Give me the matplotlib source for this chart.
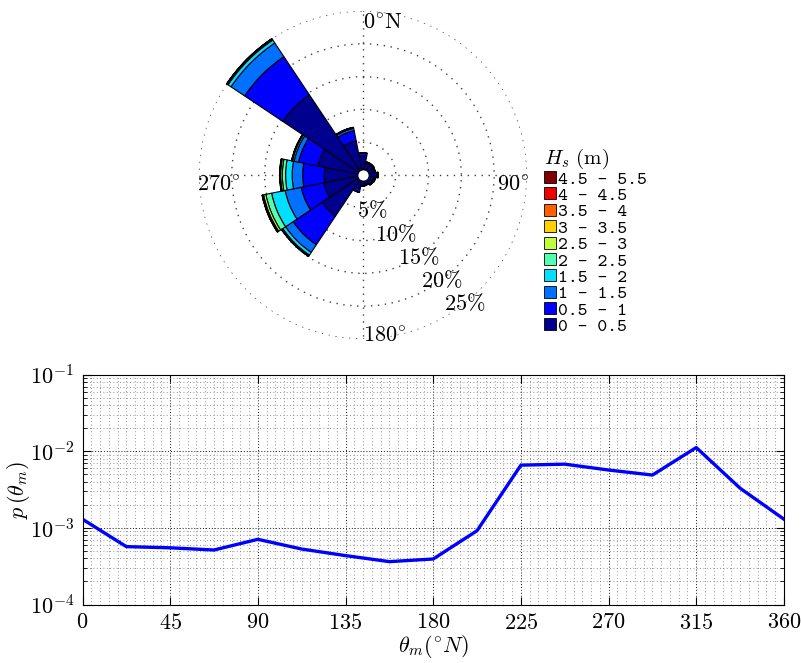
import numpy as np
import matplotlib
matplotlib.use("Agg")
import matplotlib.pyplot as plt
from matplotlib.patches import Patch
from matplotlib.ticker import MultipleLocator, LogLocator, NullFormatter

plt.rcParams['font.family'] = 'serif'
plt.rcParams['font.serif'] = ['cmr10']
plt.rcParams['mathtext.fontset'] = 'cm'
plt.rcParams['axes.formatter.use_mathtext'] = True
plt.rcParams['axes.unicode_minus'] = False

# wind rose: frequency (%) per direction sector, one list per Hs class
dirs = [0, 22.5, 45, 67.5, 90, 112.5, 135, 157.5, 180, 202.5, 225, 247.5, 270, 292.5, 315, 337.5]
hs_0_05 = [2.9, 1.9, 1.9, 1.8, 2.1, 1.8, 1.7, 1.5, 1.6, 2.1, 7.5, 6.1, 5.9, 7.0, 14.7, 5.3]
hs_05_1 = [0.45, 0.15, 0.15, 0.15, 0.2, 0.15, 0.15, 0.1, 0.1, 0.5, 5.3, 3.5, 3.3, 3.0, 7.0, 1.6]
hs_1_15 = [0.05, 0.02, 0.02, 0.02, 0.03, 0.02, 0.02, 0.01, 0.01, 0.1, 1.4, 2.5, 1.6, 0.7, 2.5, 0.35]
hs_15_2 = [0, 0, 0, 0, 0, 0, 0, 0, 0, 0.02, 0.5, 2.1, 1.0, 0.25, 0.55, 0.12]
hs_2_25 = [0, 0, 0, 0, 0, 0, 0, 0, 0, 0, 0.15, 0.9, 0.5, 0.1, 0.15, 0.04]
hs_25_3 = [0, 0, 0, 0, 0, 0, 0, 0, 0, 0, 0.05, 0.35, 0.25, 0.03, 0.06, 0.01]
hs_3_35 = [0, 0, 0, 0, 0, 0, 0, 0, 0, 0, 0.02, 0.15, 0.1, 0.01, 0.03, 0]
hs_35_4 = [0, 0, 0, 0, 0, 0, 0, 0, 0, 0, 0.01, 0.05, 0.04, 0, 0.01, 0]
hs_4_45 = [0, 0, 0, 0, 0, 0, 0, 0, 0, 0, 0, 0.02, 0.01, 0, 0, 0]
hs_45_55 = [0, 0, 0, 0, 0, 0, 0, 0, 0, 0, 0, 0.01, 0, 0, 0, 0]
hs_classes = ['0 - 0.5', '0.5 - 1', '1 - 1.5', '1.5 - 2', '2 - 2.5',
              '2.5 - 3', '3 - 3.5', '3.5 - 4', '4 - 4.5', '4.5 - 5.5']
hs_colors = ['#00008F', '#0000FF', '#0070FF', '#00DFFF', '#50FFAF',
             '#BFFF40', '#FFCF00', '#FF6000', '#EF0000', '#800000']

# directional density
theta_m = [0, 22.5, 45, 67.5, 90, 112.5, 135, 157.5, 180, 202.5, 225, 247.5,
           270, 292.5, 315, 337.5, 360]
p_theta = [1.3e-3, 5.7e-4, 5.5e-4, 5.15e-4, 7.1e-4, 5.3e-4, 4.35e-4, 3.63e-4,
           3.93e-4, 9.2e-4, 6.6e-3, 6.8e-3, 5.7e-3, 4.9e-3, 1.12e-2, 3.3e-3, 1.3e-3]

fig = plt.figure(figsize=(8.01, 6.63), dpi=100)

# ---- wind rose
ax = fig.add_axes([0.2484, 0.4887, 0.4095, 0.4947], projection='polar')
ax.set_theta_zero_location('N')
ax.set_theta_direction(-1)

layers = [hs_0_05, hs_05_1, hs_1_15, hs_15_2, hs_2_25, hs_25_3, hs_3_35, hs_35_4, hs_4_45, hs_45_55]
th = np.deg2rad(dirs)
bottom = np.zeros(len(dirs))
for vals, col in zip(layers, hs_colors):
    vals = np.array(vals)
    m = vals > 0
    ax.bar(th[m], vals[m], width=np.deg2rad(22.5), bottom=bottom[m], color=col,
           edgecolor='k', linewidth=0.8, align='center', clip_on=False, zorder=3)
    bottom += vals
ax.plot([0], [0], 'o', color='white', markersize=8, markeredgecolor='k',
        markeredgewidth=0.6, zorder=5, clip_on=False)

ax.set_ylim(0, 25)
ax.set_rgrids([5, 10, 15, 20, 25], labels=[''] * 5)
ax.set_thetagrids([0, 90, 180, 270], labels=[''] * 4)
ax.grid(True, linestyle=(0, (1, 4)), color='0.25', linewidth=1.0)
ax.spines['polar'].set_visible(False)

fs = 16
ax.text(0, 24.6, r'$0^{\circ}\mathrm{N}$', ha='left', va='top', fontsize=fs)
ax.text(np.pi / 2, 25.3, r'$90^{\circ}$', ha='right', va='top', fontsize=fs)
ax.text(np.pi, 25.4, r'$180^{\circ}$', ha='left', va='baseline', fontsize=fs)
ax.text(1.5 * np.pi, 25.3, r'$270^{\circ}$', ha='left', va='top', fontsize=fs)
for r in [5, 10, 15, 20, 25]:
    ax.annotate(r'$%d\%%$' % r, xy=(np.deg2rad(135), r), xytext=(-10, -9),
                textcoords='offset points', ha='center', va='center', fontsize=fs)

handles = [Patch(facecolor=c, edgecolor='k', linewidth=0.6) for c in hs_colors][::-1]
leg = fig.legend(handles, hs_classes[::-1], loc='upper left',
                 bbox_to_anchor=(0.679, 0.778), frameon=False,
                 prop={'family': 'cmtt10', 'size': 13.5},
                 title=r'$H_s\ (\mathrm{m})$', title_fontsize=15,
                 handlelength=0.65, handleheight=0.6, labelspacing=-0.01,
                 handletextpad=0.1, borderaxespad=0, borderpad=0)
leg._legend_box.align = 'left'

# ---- p(theta)
bx = fig.add_axes([0.103, 0.0882, 0.8757, 0.3466])
bx.plot(theta_m, p_theta, color='#0000FF', linewidth=2.4)
bx.set_yscale('log')
bx.set_xlim(0, 360)
bx.set_ylim(1e-4, 1e-1)
bx.xaxis.set_major_locator(MultipleLocator(45))
bx.xaxis.set_minor_locator(MultipleLocator(4.5))
bx.yaxis.set_major_locator(LogLocator(base=10, numticks=10))
bx.yaxis.set_minor_locator(LogLocator(base=10, subs=np.arange(2, 10), numticks=20))
bx.yaxis.set_minor_formatter(NullFormatter())
bx.tick_params(which='both', direction='in', top=True, right=True, labelsize=fs)
bx.tick_params(which='major', length=6, pad=6)
bx.tick_params(axis='x', which='minor', length=0)
bx.tick_params(axis='y', which='minor', length=3)
bx.grid(True, which='major', linestyle=(0, (1, 2)), color='0.1', linewidth=0.7)
bx.grid(True, which='minor', linestyle=(0, (1, 3)), color='0.45', linewidth=0.6)
bx.set_xlabel(r'$\theta_m(^{\circ}N)$', fontsize=fs, labelpad=0)
bx.set_ylabel(r'$p\,(\theta_m)$', fontsize=fs, labelpad=-2)

fig.savefig('out.png', dpi=100)
